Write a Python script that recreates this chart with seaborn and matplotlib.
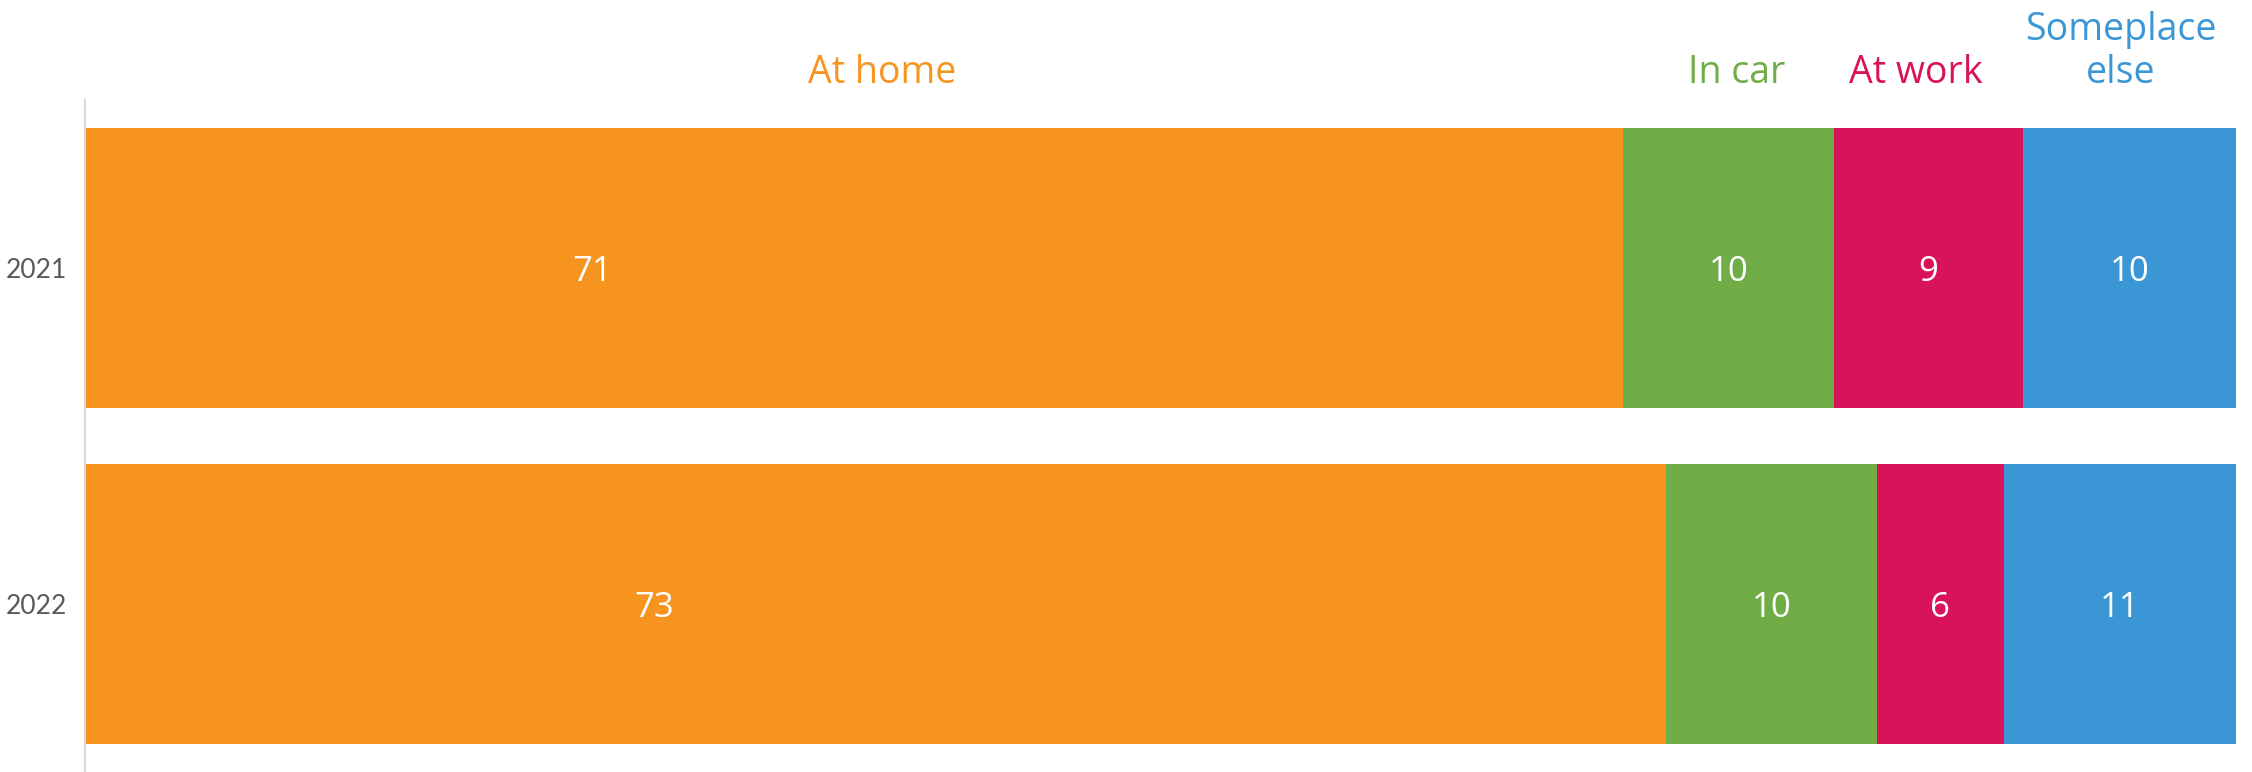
import matplotlib
matplotlib.use("Agg")
import matplotlib.pyplot as plt
import seaborn as sns
import numpy as np
import pandas as pd
from matplotlib import font_manager

years = ["2021", "2022"]
categories = ["At home", "In car", "At work", "Someplace else"]
header_labels = ["At home", "In car", "At work", "Someplace\nelse"]
at_home = [71.5, 73.5]
in_car = [9.8, 9.8]
at_work = [8.8, 5.9]
someplace_else = [9.9, 10.8]
value_labels = [["71", "10", "9", "10"], ["73", "10", "6", "11"]]
colors = ["#F7941F", "#70AD47", "#D9135A", "#3B96D6"]

sns.set_theme(style="white")
plt.rcParams["font.family"] = ["Open Sans", "DejaVu Sans"]

names = {f.name for f in font_manager.fontManager.ttflist}
tick_family = "Liberation Sans Narrow" if "Liberation Sans Narrow" in names else "Lato"

series = [at_home, in_car, at_work, someplace_else]
vals = np.array(series).T  # rows: years, cols: categories
cum = np.cumsum(vals, axis=1)

fig = plt.figure(figsize=(22.52, 7.72), dpi=100)
ax = fig.add_axes([85 / 2252, 0, (2236 - 85) / 2252, 1 - 100 / 772])

# stacked bars: draw cumulative totals from back to front
for j in range(len(categories) - 1, -1, -1):
    df = pd.DataFrame({"year": years, "value": cum[:, j]})
    sns.barplot(data=df, y="year", x="value", order=years, color=colors[j],
                saturation=1, width=0.834, linewidth=0, ax=ax, orient="h")

ax.set_xlim(0, cum[:, -1].max())
ax.set_ylim(1.5, -0.5)

# value labels
for i, yr in enumerate(years):
    starts = np.concatenate([[0], cum[i, :-1]])
    for j in range(len(categories)):
        xc = starts[j] + vals[i, j] / 2
        if j == 0:
            xc = starts[j] + vals[i, j] * (0.33 if i == 0 else 0.36)
        ax.text(xc, i, value_labels[i][j], ha="center", va="center_baseline",
                color="white", fontsize=25)

# header labels above the bars
starts0 = np.concatenate([[0], cum[0, :-1]])
hdr_centers = starts0 + vals[0] / 2
hdr_centers += np.array([1.3, 0.4, -0.6, -0.4])
for j, lab in enumerate(header_labels):
    ax.text(hdr_centers[j], -0.5 - 0.025, lab, ha="center", va="bottom",
            color=colors[j], fontsize=27, linespacing=1.15, clip_on=False,
            transform=ax.transData)

ax.set_xlabel("")
ax.set_ylabel("")
ax.set_xticks([])
ax.tick_params(axis="y", length=0, pad=13)
for lbl in ax.get_yticklabels():
    lbl.set_fontfamily([tick_family, "DejaVu Sans"])
    lbl.set_fontsize(19)
    lbl.set_color("#595959")
for s in ["top", "right", "bottom"]:
    ax.spines[s].set_visible(False)
ax.spines["left"].set_color("#D9D9D9")
ax.spines["left"].set_linewidth(1.5)

fig.savefig("out.png", dpi=100)
